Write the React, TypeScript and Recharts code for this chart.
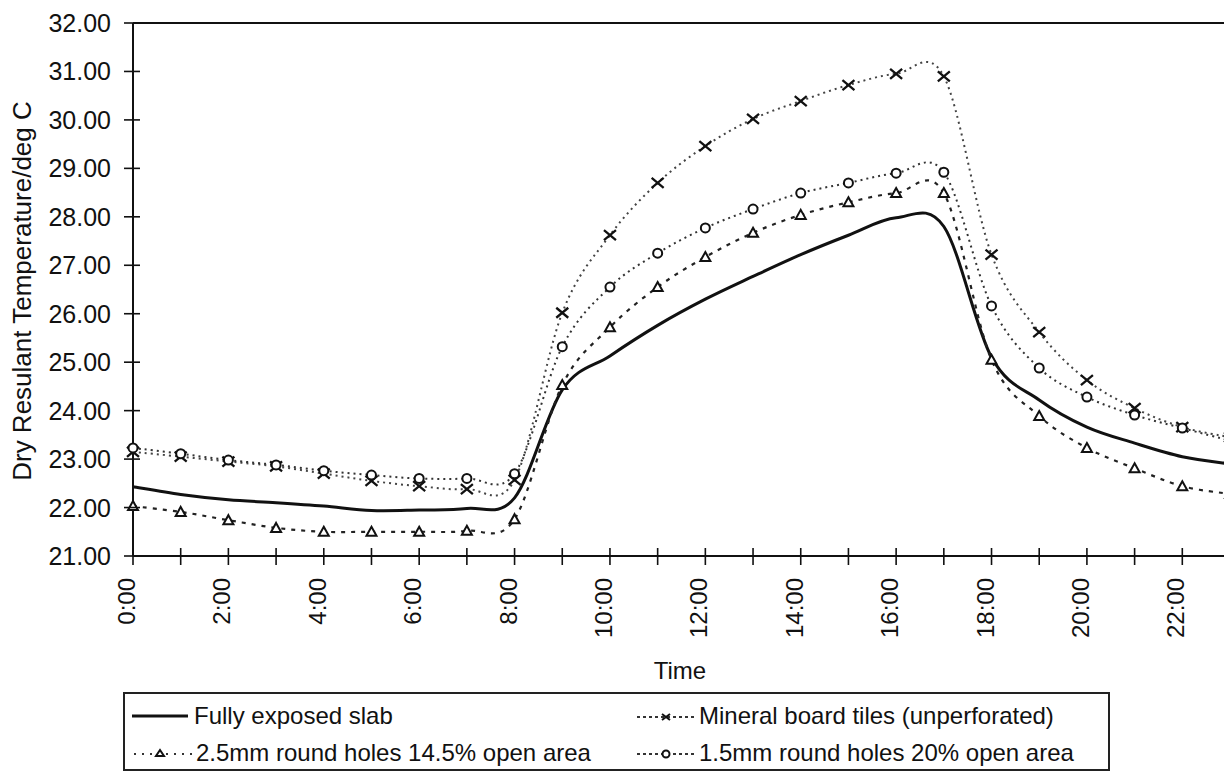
import { Line, LineChart, ReferenceLine, XAxis, YAxis } from "recharts";

const TIMES = [
  "0:00", "1:00", "2:00", "3:00", "4:00", "5:00", "6:00", "7:00",
  "8:00", "9:00", "10:00", "11:00", "12:00", "13:00", "14:00", "15:00",
  "16:00", "17:00", "18:00", "19:00", "20:00", "21:00", "22:00", "23:00",
];

const SLAB = [
  22.43, 22.27, 22.16, 22.1, 22.03, 21.94, 21.95, 21.98, 22.2, 24.43, 25.13,
  25.76, 26.3, 26.77, 27.22, 27.62, 27.98, 27.8, 25.1, 24.22, 23.66, 23.33,
  23.05, 22.9,
];
const MINERAL = [
  23.15, 23.05, 22.95, 22.85, 22.7, 22.55, 22.44, 22.38, 22.57, 26.02, 27.62,
  28.7, 29.46, 30.02, 30.39, 30.72, 30.95, 30.9, 27.22, 25.62, 24.63, 24.05,
  23.66, 23.45,
];
const HOLES_25 = [
  22.03, 21.91, 21.74, 21.58, 21.5, 21.5, 21.5, 21.52, 21.76, 24.53, 25.72,
  26.55, 27.17, 27.67, 28.04, 28.3, 28.49, 28.49, 25.05, 23.89, 23.23, 22.81,
  22.44, 22.28,
];
const HOLES_15 = [
  23.23, 23.11, 22.98, 22.88, 22.76, 22.67, 22.6, 22.6, 22.7, 25.32, 26.55,
  27.25, 27.77, 28.16, 28.49, 28.7, 28.9, 28.92, 26.16, 24.88, 24.28, 23.91,
  23.64, 23.38,
];

const Y_TICKS = [21, 22, 23, 24, 25, 26, 27, 28, 29, 30, 31, 32];

const FONT = '"Liberation Sans", Arial, sans-serif';
const INK = "#111";

const data = TIMES.map((time, i) => ({
  time,
  slab: SLAB[i],
  mineral: MINERAL[i],
  holes25: HOLES_25[i],
  holes15: HOLES_15[i],
}));

// Excel-style smoothed line (Catmull-Rom through every point)
const smoothCurve = (context: any) => {
  let pts: [number, number][] = [];
  return {
    areaStart() {},
    areaEnd() {},
    lineStart() {
      pts = [];
    },
    point(x: number, y: number) {
      pts.push([+x, +y]);
    },
    lineEnd() {
      if (!pts.length) return;
      context.moveTo(pts[0][0], pts[0][1]);
      for (let i = 0; i < pts.length - 1; i++) {
        const p0 = pts[i - 1] || pts[i];
        const p1 = pts[i];
        const p2 = pts[i + 1];
        const p3 = pts[i + 2] || p2;
        context.bezierCurveTo(
          p1[0] + (p2[0] - p0[0]) / 6,
          p1[1] + (p2[1] - p0[1]) / 6,
          p2[0] - (p3[0] - p1[0]) / 6,
          p2[1] - (p3[1] - p1[1]) / 6,
          p2[0],
          p2[1]
        );
      }
    },
  };
};

const crossDot = (props: any) => {
  const { cx, cy, index } = props;
  if (cx == null || cy == null) return <g key={`x-${index}`} />;
  return (
    <path
      key={`x-${index}`}
      d={`M${cx - 6},${cy - 5}L${cx + 6},${cy + 5}M${cx - 6},${cy + 5}L${cx + 6},${cy - 5}`}
      stroke={INK}
      strokeWidth={2.3}
      fill="none"
    />
  );
};

const triangleDot = (props: any) => {
  const { cx, cy, index } = props;
  if (cx == null || cy == null) return <g key={`t-${index}`} />;
  return (
    <path
      key={`t-${index}`}
      d={`M${cx},${cy - 5}L${cx + 5},${cy + 4}L${cx - 5},${cy + 4}Z`}
      stroke={INK}
      strokeWidth={2}
      fill="#fff"
    />
  );
};

const circleDot = (props: any) => {
  const { cx, cy, index } = props;
  if (cx == null || cy == null) return <g key={`c-${index}`} />;
  return (
    <circle
      key={`c-${index}`}
      cx={cx}
      cy={cy}
      r={4.5}
      stroke={INK}
      strokeWidth={2}
      fill="#fff"
    />
  );
};

const XTick = (props: any) => {
  const { x, y, index, payload } = props;
  return (
    <g>
      <line x1={x} x2={x} y1={y - 8} y2={y + 9} stroke={INK} strokeWidth={1.6} />
      {index % 2 === 0 && (
        <text
          x={x + 2}
          y={y + 22}
          transform={`rotate(-90 ${x + 2} ${y + 22})`}
          textAnchor="end"
          fontFamily={FONT}
          fontSize={24}
          fill={INK}
        >
          {payload.value}
        </text>
      )}
    </g>
  );
};

const YTick = (props: any) => {
  const { x, y, payload } = props;
  return (
    <g>
      <line x1={x - 9} x2={x + 7} y1={y} y2={y} stroke={INK} strokeWidth={1.6} />
      <text
        x={x - 22}
        y={y}
        dy="0.36em"
        textAnchor="end"
        fontFamily={FONT}
        fontSize={25}
        fill={INK}
      >
        {Number(payload.value).toFixed(2)}
      </text>
    </g>
  );
};

const LegendSample = ({ kind }: { kind: string }) => (
  <svg width={62} height={20} style={{ display: "block" }}>
    {kind === "slab" && (
      <line x1={0} x2={56} y1={10} y2={10} stroke={INK} strokeWidth={3} />
    )}
    {kind !== "slab" && (
      <line
        x1={2}
        x2={60}
        y1={11}
        y2={11}
        stroke="#333"
        strokeWidth={2}
        strokeDasharray={kind === "holes25" ? "2 6" : "3 3"}
      />
    )}
    {kind === "mineral" && (
      <path d="M27,8L35,14M27,14L35,8" stroke={INK} strokeWidth={2} />
    )}
    {kind === "holes25" && (
      <path d="M28,7L32,13L24,13Z" stroke={INK} strokeWidth={2} fill="#fff" />
    )}
    {kind === "holes15" && (
      <circle cx={31} cy={11} r={3.5} stroke={INK} strokeWidth={2} fill="#fff" />
    )}
  </svg>
);

const LEGEND_ITEMS = [
  { kind: "slab", label: "Fully exposed slab", left: 9, top: 10 },
  { kind: "mineral", label: "Mineral board tiles (unperforated)", left: 512, top: 10 },
  { kind: "holes25", label: "2.5mm round holes 14.5% open area", left: 9, top: 47 },
  { kind: "holes15", label: "1.5mm round holes 20% open area", left: 512, top: 47 },
];

export default function App() {
  return (
    <div
      style={{
        position: "absolute",
        left: 0,
        top: 0,
        width: 1224,
        height: 775,
        overflow: "hidden",
        background: "#fff",
        fontFamily: FONT,
        color: INK,
      }}
    >
      <LineChart
        width={1240}
        height={775}
        data={data}
        margin={{ top: 23, right: 10, left: 0, bottom: 0 }}
      >
        <XAxis
          dataKey="time"
          interval={0}
          tickLine={false}
          tickSize={0}
          tickMargin={0}
          height={219}
          axisLine={{ stroke: INK, strokeWidth: 2 }}
          tick={XTick}
        />
        <YAxis
          type="number"
          domain={[21, 32]}
          ticks={Y_TICKS}
          width={133}
          tickLine={false}
          tickSize={0}
          tickMargin={0}
          axisLine={{ stroke: INK, strokeWidth: 2 }}
          tick={YTick}
        />
        <ReferenceLine y={32} stroke={INK} strokeWidth={2} />
        <Line
          dataKey="slab"
          type={smoothCurve as any}
          stroke={INK}
          strokeWidth={3}
          dot={false}
          activeDot={false}
          isAnimationActive={false}
        />
        <Line
          dataKey="mineral"
          type={smoothCurve as any}
          stroke="#444"
          strokeWidth={2}
          strokeDasharray="2 4"
          dot={crossDot}
          activeDot={false}
          isAnimationActive={false}
        />
        <Line
          dataKey="holes15"
          type={smoothCurve as any}
          stroke="#333"
          strokeWidth={2}
          strokeDasharray="2 4"
          dot={circleDot}
          activeDot={false}
          isAnimationActive={false}
        />
        <Line
          dataKey="holes25"
          type={smoothCurve as any}
          stroke="#222"
          strokeWidth={2.2}
          strokeDasharray="4 6"
          dot={triangleDot}
          activeDot={false}
          isAnimationActive={false}
        />
      </LineChart>

      <div
        style={{
          position: "absolute",
          left: 9,
          top: 291,
          width: 0,
          height: 0,
        }}
      >
        <div
          style={{
            position: "absolute",
            left: 0,
            top: 0,
            transform: "translate(-50%, -50%) rotate(-90deg)",
            whiteSpace: "nowrap",
            fontSize: 26,
            lineHeight: "28px",
            marginLeft: 13,
          }}
        >
          Dry Resulant Temperature/deg C
        </div>
      </div>

      <div
        style={{
          position: "absolute",
          left: 580,
          width: 200,
          top: 657,
          textAlign: "center",
          fontSize: 24,
          lineHeight: "28px",
        }}
      >
        Time
      </div>

      <div
        style={{
          position: "absolute",
          left: 123,
          top: 692,
          width: 987,
          height: 79,
          border: "2px solid #222",
          boxSizing: "border-box",
        }}
      >
        {LEGEND_ITEMS.map((it) => (
          <div
            key={it.kind}
            style={{
              position: "absolute",
              left: it.left - 2,
              top: it.top - 2,
              display: "flex",
              alignItems: "center",
              whiteSpace: "nowrap",
              fontSize: 24,
              lineHeight: "28px",
            }}
          >
            <LegendSample kind={it.kind} />
            <span style={{ marginLeft: it.kind === "slab" ? 0 : 2 }}>{it.label}</span>
          </div>
        ))}
      </div>
    </div>
  );
}
